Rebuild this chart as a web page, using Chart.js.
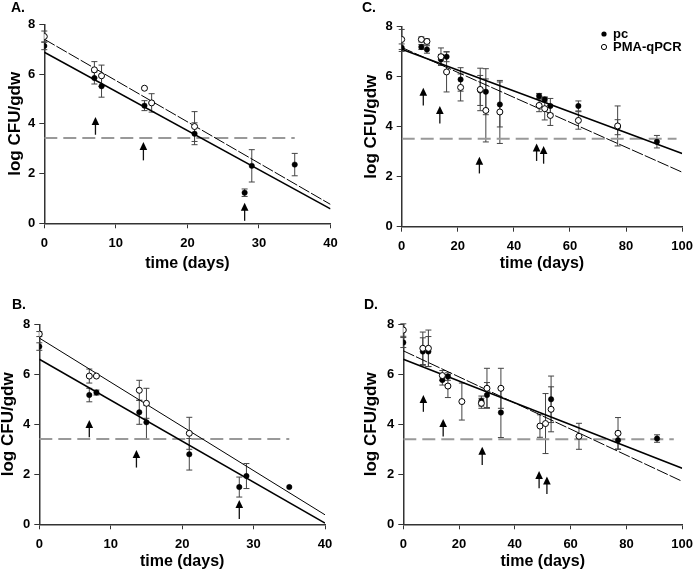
<!DOCTYPE html>
<html>
<head>
<meta charset="utf-8">
<script src="https://cdn.jsdelivr.net/npm/chart.js@4.4.1/dist/chart.umd.min.js"></script>
<style>
  html, body { margin: 0; padding: 0; background: #fff; }
  #wrap { position: relative; width: 700px; height: 576px; }
  canvas { position: absolute; }
</style>
</head>
<body>
<div id="wrap">
  <canvas id="cA" width="350" height="288" style="left:0;top:0"></canvas>
  <canvas id="cC" width="350" height="288" style="left:350px;top:0"></canvas>
  <canvas id="cB" width="350" height="288" style="left:0;top:288px"></canvas>
  <canvas id="cD" width="350" height="288" style="left:350px;top:288px"></canvas>
</div>
<script>
// ---- panel A ----
const pcA_days = [0, 7, 8, 14, 21, 28, 29, 35];
const pcA_log = [7.13, 5.84, 5.51, 4.73, 3.6, 1.23, 2.31, 2.36];
const pcA_err = [0.15, 0.24, 0.44, 0.2, 0.44, 0.15, 0.65, 0.45];
const pmaA_days = [0, 7, 8, 14, 15, 21];
const pmaA_log = [7.51, 6.17, 5.93, 5.43, 4.84, 3.89];
const pmaA_err = [0.22, 0.33, 0.43, 0, 0.37, 0.6];
const fitA_pc = [6.88, 0.58];
const fitA_pma = [7.4, 0.76];
const limitA = 3.43;
const arrowsA = [[7.15, 3.56, 4.27], [13.85, 2.53, 3.27], [28, 0.1, 0.83]];

// ---- panel B ----
const pcB_days = [0, 7, 8, 14, 15, 21, 28, 29, 35];
const pcB_log = [7.11, 5.17, 5.27, 4.48, 4.08, 2.8, 1.49, 1.93, 1.49];
const pcB_err = [0.15, 0.27, 0.1, 0.48, 0.67, 0.63, 0.4, 0.5, 0];
const pmaB_days = [0, 7, 8, 14, 15, 21];
const pmaB_log = [7.61, 5.93, 5.93, 5.36, 4.84, 3.64];
const pmaB_err = [0.1, 0.28, 0, 0.4, 0.6, 0.64];
const fitB_pc = [6.6, 0.05];
const fitB_pma = [7.45, 0.38];
const limitB = 3.41;
const arrowsB = [[7, 3.48, 4.17], [13.6, 2.27, 2.97], [28, 0.21, 0.97]];

// ---- panel C ----
const pcC_days = [0, 7, 9, 14, 16, 21, 28, 30, 35, 49, 51, 53, 63, 77, 91];
const pcC_log = [7.16, 7.19, 7.09, 6.69, 6.8, 5.89, 5.45, 5.4, 4.89, 5.23, 5.09, 4.83, 4.83, 3.98, 3.4];
const pcC_err = [0.15, 0.1, 0.15, 0.2, 0.2, 0.47, 0.6, 0.92, 0.9, 0.1, 0.1, 0.3, 0.2, 0.3, 0.25];
const pmaC_days = [0, 7, 9, 14, 16, 21, 28, 30, 35, 49, 51, 53, 63, 77];
const pmaC_log = [7.49, 7.49, 7.41, 6.8, 6.19, 5.57, 5.49, 4.65, 4.59, 4.85, 4.72, 4.45, 4.25, 4.03];
const pmaC_err = [0.4, 0.1, 0.1, 0.35, 0.8, 0.54, 0.85, 1.26, 1.26, 0.25, 0.45, 0.4, 0.35, 0.8];
const fitC_pc = [7.1, 2.93];
const fitC_pma = [7.17, 2.18];
const limitC = 3.52;
const arrowsC = [[7.7, 4.85, 5.56], [13.6, 4.13, 4.83], [27.7, 2.13, 2.8], [48.1, 2.63, 3.33], [50.6, 2.52, 3.23]];

// ---- panel D ----
const pcD_days = [0, 7, 9, 14, 16, 28, 30, 35, 53, 77, 91];
const pcD_log = [7.27, 6.91, 6.91, 5.77, 5.91, 4.93, 5.17, 4.47, 5.0, 3.36, 3.43];
const pcD_err = [0.2, 0.55, 0.6, 0.2, 0.15, 0.2, 0.5, 1.0, 0.93, 0.36, 0.15];
const pmaD_days = [0, 7, 9, 14, 16, 21, 28, 30, 35, 49, 51, 53, 63, 77];
const pmaD_log = [7.77, 7.04, 7.04, 5.95, 5.53, 4.91, 4.84, 5.44, 5.44, 3.93, 4.03, 4.6, 3.52, 3.64];
const pmaD_err = [0.25, 0.65, 0.73, 0.2, 0.46, 0.74, 0.2, 0.8, 0.8, 0.45, 1.2, 0.9, 0.52, 0.63];
const fitD_pc = [6.6, 2.24];
const fitD_pma = [6.94, 1.72];
const limitD = 3.4;
const arrowsD = [[7.2, 4.5, 5.17], [14.3, 3.51, 4.21], [28.3, 2.37, 3.1], [48.7, 1.44, 2.13], [51.5, 1.21, 1.91]];

const FONT = "'Liberation Sans', Arial, sans-serif";

function points(xs, ys) {
    return xs.map((x, i) => ({x: x, y: ys[i]}));
}

// error bars, drawn under the markers
function errorBars(p) {
    return {
        id: 'errorBars',
        beforeDatasetsDraw(chart) {
            const {ctx, scales: {x, y}} = chart;
            ctx.save();
            ctx.strokeStyle = '#444';
            ctx.lineWidth = 1;
            const draw = (xs, ys, es) => {
                xs.forEach((d, i) => {
                    if (!es[i]) return;
                    const px = x.getPixelForValue(d);
                    const top = y.getPixelForValue(ys[i] + es[i]);
                    const bot = y.getPixelForValue(ys[i] - es[i]);
                    ctx.beginPath();
                    ctx.moveTo(px, top); ctx.lineTo(px, bot);
                    ctx.moveTo(px - 3, top); ctx.lineTo(px + 3, top);
                    ctx.moveTo(px - 3, bot); ctx.lineTo(px + 3, bot);
                    ctx.stroke();
                });
            };
            draw(p.pcX, p.pcY, p.pcE);
            draw(p.pmaX, p.pmaY, p.pmaE);
            ctx.restore();
        }
    };
}

function arrows(p) {
    return {
        id: 'arrows',
        afterDatasetsDraw(chart) {
            const {ctx, scales: {x, y}} = chart;
            ctx.save();
            ctx.strokeStyle = '#111';
            ctx.fillStyle = '#000';
            ctx.lineWidth = 1.3;
            p.arrows.forEach(a => {
                const px = x.getPixelForValue(a[0]);
                const y1 = y.getPixelForValue(a[1]);
                const y2 = y.getPixelForValue(a[2]);
                ctx.beginPath();
                ctx.moveTo(px, y1); ctx.lineTo(px, y2 + 6);
                ctx.stroke();
                ctx.beginPath();
                ctx.moveTo(px, y2);
                ctx.lineTo(px - 3.8, y2 + 8);
                ctx.lineTo(px + 3.8, y2 + 8);
                ctx.closePath();
                ctx.fill();
            });
            ctx.restore();
        }
    };
}

function labels(p) {
    return {
        id: 'labels',
        afterDraw(chart) {
            const ctx = chart.ctx;
            ctx.save();
            ctx.fillStyle = '#000';
            ctx.textBaseline = 'middle';
            ctx.font = 'bold 14px ' + FONT;
            ctx.fillText(p.letter, p.letterPos[0], p.letterPos[1]);
            if (p.legend) {
                ctx.font = 'bold 13px ' + FONT;
                ctx.beginPath();
                ctx.arc(254, 34, 2.6, 0, Math.PI * 2);
                ctx.fill();
                ctx.fillText('pc', 263, 34);
                ctx.beginPath();
                ctx.arc(254, 47, 2.6, 0, Math.PI * 2);
                ctx.fillStyle = '#fff';
                ctx.fill();
                ctx.strokeStyle = '#000';
                ctx.lineWidth = 1;
                ctx.stroke();
                ctx.fillStyle = '#000';
                ctx.fillText('PMA-qPCR', 263, 47);
            }
            ctx.restore();
        }
    };
}

function buildPanel(id, p) {
    const ctx = document.getElementById(id).getContext('2d');
    return new Chart(ctx, {
        type: 'scatter',
        data: {
            datasets: [
                {
                    label: 'PMA-qPCR',
                    data: points(p.pmaX, p.pmaY),
                    backgroundColor: '#fff',
                    borderColor: '#000',
                    borderWidth: 1,
                    pointRadius: 3,
                    order: 0
                },
                {
                    label: 'pc',
                    data: points(p.pcX, p.pcY),
                    backgroundColor: '#000',
                    borderColor: '#000',
                    borderWidth: 0.5,
                    pointRadius: 2.7,
                    order: 1
                },
                {
                    data: points([0, p.xMax], p.fitPma),
                    showLine: true,
                    borderColor: '#000',
                    borderWidth: 1,
                    borderDash: p.fitDash,
                    pointRadius: 0,
                    order: 2
                },
                {
                    data: points([0, p.xMax], p.fitPc),
                    showLine: true,
                    borderColor: '#000',
                    borderWidth: 1.6,
                    pointRadius: 0,
                    order: 2
                },
                {
                    data: points(p.limitX, [p.limit, p.limit]),
                    showLine: true,
                    borderColor: '#999',
                    borderWidth: 2,
                    borderDash: [13, 6],
                    pointRadius: 0,
                    order: 3
                }
            ]
        },
        plugins: [errorBars(p), arrows(p), labels(p)],
        options: {
            responsive: false,
            animation: false,
            events: [],
            layout: {padding: p.pad},
            plugins: {legend: {display: false}, tooltip: {enabled: false}},
            scales: {
                x: {
                    type: 'linear',
                    min: 0,
                    max: p.xMax,
                    afterFit: s => { s.height = p.xH; },
                    ticks: {stepSize: p.xStep, color: '#000', padding: 7,
                        font: {family: FONT, weight: 'bold', size: 13}},
                    grid: {drawOnChartArea: false, drawTicks: true, tickLength: 5, color: '#333'},
                    border: {display: true, color: '#333', width: 1.5},
                    title: {display: true, text: 'time (days)', color: '#000', padding: 0,
                        font: {family: FONT, weight: 'bold', size: 16, lineHeight: 1}}
                },
                y: {
                    type: 'linear',
                    min: 0,
                    max: 8,
                    afterFit: s => { s.width = p.yW; },
                    ticks: {stepSize: 2, color: '#000', padding: 4,
                        font: {family: FONT, weight: 'bold', size: 13}},
                    grid: {drawOnChartArea: false, drawTicks: true, tickLength: 5, color: '#333'},
                    border: {display: true, color: '#333', width: 1.5},
                    title: {display: true, text: 'log CFU/gdw', color: '#000', padding: 0,
                        font: {family: FONT, weight: 'bold', size: 17, lineHeight: 1}}
                }
            }
        }
    });
}

buildPanel('cA', {
    pcX: pcA_days, pcY: pcA_log, pcE: pcA_err,
    pmaX: pmaA_days, pmaY: pmaA_log, pmaE: pmaA_err,
    fitPc: fitA_pc, fitPma: fitA_pma, fitDash: [12, 2],
    limit: limitA, limitX: [0, 35], arrows: arrowsA,
    xMax: 40, xStep: 10, letter: 'A.', letterPos: [11, 8],
    pad: {left: 6.5, right: 19.5, top: 24.3, bottom: 16}, yW: 37.8, xH: 48.7
});
buildPanel('cC', {
    pcX: pcC_days, pcY: pcC_log, pcE: pcC_err,
    pmaX: pmaC_days, pmaY: pmaC_log, pmaE: pmaC_err,
    fitPc: fitC_pc, fitPma: fitC_pma, fitDash: [12, 2],
    limit: limitC, limitX: [0, 98], arrows: arrowsC,
    xMax: 100, xStep: 20, letter: 'C.', letterPos: [12, 8], legend: true,
    pad: {left: 13.2, right: 11.7, top: 26.7, bottom: 16}, yW: 38.5, xH: 45.3
});
buildPanel('cB', {
    pcX: pcB_days, pcY: pcB_log, pcE: pcB_err,
    pmaX: pmaB_days, pmaY: pmaB_log, pmaE: pmaB_err,
    fitPc: fitB_pc, fitPma: fitB_pma, fitDash: [],
    limit: limitB, limitX: [0, 35], arrows: arrowsB,
    xMax: 40, xStep: 10, letter: 'B.', letterPos: [12, 17],
    pad: {left: 0, right: 25, top: 36.3, bottom: 6}, yW: 39.3, xH: 45.7
});
buildPanel('cD', {
    pcX: pcD_days, pcY: pcD_log, pcE: pcD_err,
    pmaX: pmaD_days, pmaY: pmaD_log, pmaE: pmaD_err,
    fitPc: fitD_pc, fitPma: fitD_pma, fitDash: [12, 2],
    limit: limitD, limitX: [0, 97], arrows: arrowsD,
    xMax: 100, xStep: 20, letter: 'D.', letterPos: [14, 17],
    pad: {left: 13.2, right: 10.7, top: 36.3, bottom: 6}, yW: 40.1, xH: 45.7
});
</script>
</body>
</html>
